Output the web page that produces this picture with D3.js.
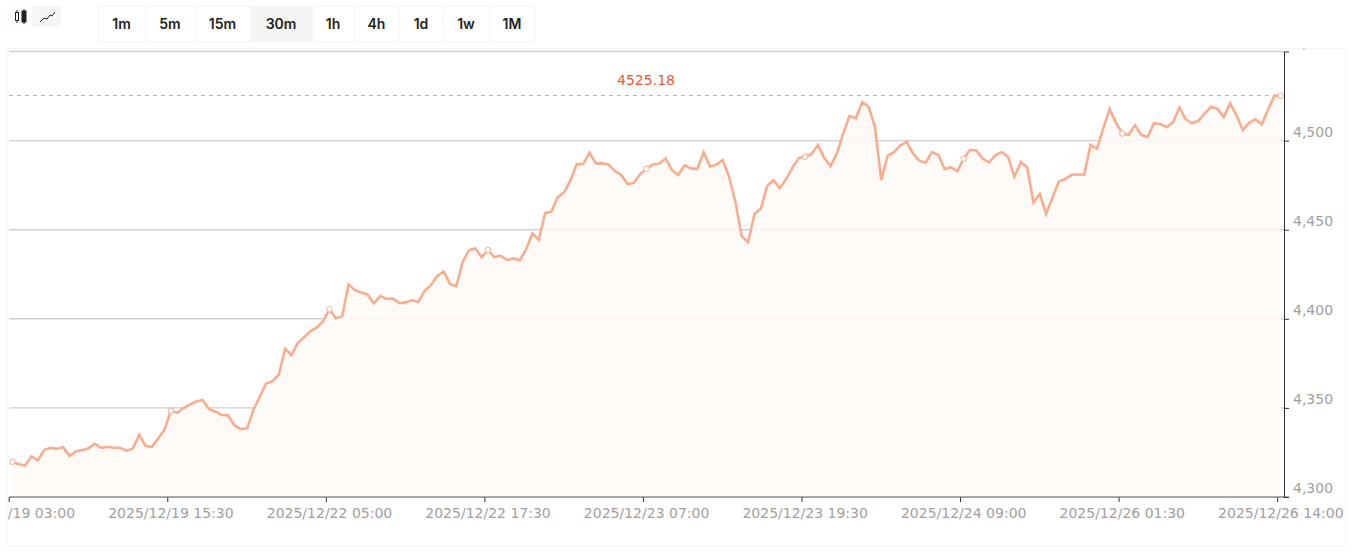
<!DOCTYPE html>
<html>
<head>
<meta charset="utf-8">
<script src="https://d3js.org/d3.v7.min.js"></script>
<style>
    html, body { margin: 0; padding: 0; background: #fff; }
    svg { display: block; font-family: "DejaVu Sans", sans-serif; }
</style>
</head>
<body>
<svg width="1359" height="556"></svg>
<script>

    // closing prices, one every 30m bar
    const prices = [
        4319.7, 4318.4, 4317.7, 4322.9, 4320.5, 4326.3, 4327.6, 4327.0, 4328.0, 4323.1,
        4325.6, 4326.3, 4327.3, 4329.9, 4327.6, 4328.2, 4327.6, 4327.6, 4325.9, 4327.3,
        4334.9, 4328.7, 4328.0, 4332.9, 4337.9, 4348.4, 4347.2, 4349.9, 4352.0, 4353.6,
        4354.5, 4349.3, 4348.0, 4346.0, 4345.8, 4340.3, 4338.1, 4338.5, 4348.8, 4356.2,
        4363.7, 4365.0, 4368.6, 4383.2, 4379.6, 4386.4, 4389.6, 4393.1, 4395.2, 4398.7,
        4405.4, 4400.2, 4401.5, 4419.3, 4416.1, 4414.8, 4413.7, 4408.6, 4412.7, 4411.2,
        4411.4, 4408.8, 4409.2, 4410.5, 4409.4, 4415.7, 4418.9, 4424.1, 4426.6, 4419.6,
        4418.4, 4432.0, 4438.5, 4439.4, 4434.6, 4438.5, 4434.6, 4435.4, 4433.0, 4433.9,
        4432.8, 4439.0, 4447.9, 4444.3, 4459.2, 4460.3, 4468.3, 4470.9, 4477.8, 4486.8,
        4486.8, 4493.2, 4487.2, 4487.2, 4486.6, 4482.9, 4480.7, 4475.6, 4476.3, 4481.2,
        4484.2, 4486.6, 4487.2, 4490.0, 4483.4, 4480.8, 4486.1, 4484.4, 4484.0, 4493.5,
        4485.5, 4486.6, 4489.1, 4479.7, 4465.6, 4446.4, 4443.0, 4458.8, 4461.7, 4474.5,
        4477.8, 4473.2, 4478.4, 4485.0, 4490.2, 4490.9, 4492.4, 4497.5, 4490.3, 4485.7,
        4492.8, 4504.0, 4513.8, 4512.5, 4521.6, 4519.0, 4507.7, 4477.8, 4491.5, 4493.5,
        4497.3, 4499.3, 4492.8, 4488.7, 4487.6, 4493.5, 4491.9, 4484.0, 4485.1, 4482.7,
        4489.8, 4494.8, 4494.5, 4489.8, 4487.8, 4491.9, 4493.5, 4490.9, 4479.7, 4487.9,
        4485.1, 4465.3, 4470.1, 4458.9, 4468.1, 4477.1, 4478.4, 4480.8, 4481.0, 4481.0,
        4497.6, 4495.4, 4506.9, 4517.7, 4510.0, 4504.0, 4503.1, 4508.7, 4503.1, 4502.1,
        4509.8, 4509.3, 4507.6, 4510.2, 4518.6, 4512.1, 4509.7, 4511.1, 4515.3, 4519.0,
        4517.9, 4513.2, 4520.9, 4514.3, 4505.9, 4510.0, 4511.9, 4509.1, 4517.5, 4525.3,
        4525.18
    ];

    // every 25th bar carries a date label and a small ring on the line
    const markedBars = [0, 25, 50, 75, 100, 125, 150, 175, 200];
    const dateLabels = ["2025/12/19 03:00", "2025/12/19 15:30", "2025/12/22 05:00", "2025/12/22 17:30",
        "2025/12/23 07:00", "2025/12/23 19:30", "2025/12/24 09:00", "2025/12/26 01:30", "2025/12/26 14:00"];
    const priceTicks = [4300, 4350, 4400, 4450, 4500, 4550];
    const lastPrice = 4525.18;
    const intervals = ["1m", "5m", "15m", "30m", "1h", "4h", "1d", "1w", "1M"];
    const intervalEdges = [98, 145, 195, 250, 312, 354, 399, 443, 489, 535];
    const activeInterval = "30m";

    const svg = d3.select("svg");
    const plotLeft = 9.2, plotRight = 1284, plotTop = 51.5, plotBottom = 497;
    const lineColor = "#f7ad8e";

    const x = d3.scaleBand().domain(d3.range(prices.length)).range([plotLeft, plotRight]);
    const y = d3.scaleLinear().domain([4300, 4550]).range([plotBottom, plotTop]);
    const cx = i => x(i) + x.bandwidth() / 2;

    const defs = svg.append("defs");

    // panel frame
    svg.append("rect").attr("x", 7.5).attr("y", 48.5).attr("width", 1338).attr("height", 498)
        .attr("fill", "#fff").attr("stroke", "#f5f5f5");

    // toolbar: chart type switch
    svg.append("rect").attr("x", 7).attr("y", 6).attr("width", 54).attr("height", 21).attr("fill", "#f5f5f5");
    svg.append("rect").attr("x", 7.5).attr("y", 6.5).attr("width", 25).attr("height", 20).attr("fill", "#fff");
    const icon = svg.append("g").attr("stroke", "#222").attr("fill", "none");
    icon.append("path").attr("d", "M17 10V23M24 9V24");
    icon.append("rect").attr("x", 15.5).attr("y", 12.5).attr("width", 3).attr("height", 8).attr("fill", "#fff");
    icon.append("rect").attr("x", 22).attr("y", 11).attr("width", 4).attr("height", 11).attr("fill", "#222");
    icon.append("path").attr("d", "M40 22L44 18L47 19L50 15L52 16L55 12").attr("stroke-width", 1);

    // toolbar: interval buttons
    const buttons = svg.append("g").selectAll("g").data(intervals).join("g");
    buttons.append("rect")
        .attr("x", (d, i) => intervalEdges[i] + 0.5)
        .attr("y", 6.5)
        .attr("width", (d, i) => intervalEdges[i + 1] - intervalEdges[i])
        .attr("height", 35)
        .attr("fill", d => d === activeInterval ? "#f5f5f5" : "#fff")
        .attr("stroke", "#f5f5f5");
    buttons.append("text")
        .attr("x", (d, i) => (intervalEdges[i] + intervalEdges[i + 1]) / 2)
        .attr("y", 29)
        .attr("text-anchor", "middle")
        .attr("fill", "#222")
        .style("font-family", "Inter, sans-serif")
        .style("font-size", "14px")
        .style("font-weight", 600)
        .text(d => d);

    // horizontal grid, the area fill washes it out further down
    svg.append("g").selectAll("line").data(priceTicks).join("line")
        .attr("x1", plotLeft).attr("x2", plotRight)
        .attr("y1", d => y(d)).attr("y2", d => y(d))
        .attr("stroke", "#cfcfcf").attr("stroke-width", 1.4);

    const area = d3.area().x((d, i) => cx(i)).y0(plotBottom).y1(d => y(d));
    const line = d3.line().x((d, i) => cx(i)).y(d => y(d));

    svg.append("path").datum(prices).attr("d", area).attr("fill", "#fef9f6").attr("fill-opacity", 0.85);

    // last price marker
    svg.append("line").attr("x1", plotLeft).attr("x2", plotRight)
        .attr("y1", y(lastPrice)).attr("y2", y(lastPrice))
        .attr("stroke", "#f6a284").attr("stroke-dasharray", "4,4")
        .attr("shape-rendering", "crispEdges");
    svg.append("text").attr("x", 646).attr("y", 85).attr("text-anchor", "middle")
        .attr("fill", "#f0562a").style("font-size", "14px").text(lastPrice);

    svg.append("path").datum(prices).attr("d", line)
        .attr("fill", "none").attr("stroke", lineColor).attr("stroke-width", 2.6);

    svg.append("g").selectAll("circle").data(markedBars).join("circle")
        .attr("cx", d => cx(d)).attr("cy", d => y(prices[d])).attr("r", 2.8)
        .attr("fill", "#fff").attr("stroke", lineColor);

    // axes
    const xAxis = d3.axisBottom(x)
        .tickValues(markedBars)
        .tickFormat((d, i) => dateLabels[i])
        .tickSize(5)
        .tickSizeOuter(0);
    defs.append("clipPath").attr("id", "clip-x").append("rect")
        .attr("x", 8).attr("y", -5).attr("width", 1338).attr("height", 40);
    const gx = svg.append("g").attr("transform", "translate(0," + plotBottom + ")")
        .attr("clip-path", "url(#clip-x)").call(xAxis);
    gx.select(".domain").remove();
    gx.selectAll("line").attr("x1", -x.bandwidth() / 2).attr("x2", -x.bandwidth() / 2).attr("stroke", "#333");
    gx.selectAll("text").attr("y", 10.5).attr("dy", "10px").attr("fill", "#a0a0a0")
        .style("font-family", "'DejaVu Sans', sans-serif").style("font-size", "14px");
    svg.append("line").attr("x1", plotLeft).attr("x2", 1289).attr("y1", plotBottom).attr("y2", plotBottom)
        .attr("stroke", "#666").attr("stroke-width", 1.2);

    const yAxis = d3.axisRight(y)
        .tickValues(priceTicks)
        .tickFormat(d3.format(","))
        .tickSize(5)
        .tickSizeOuter(0);
    defs.append("clipPath").attr("id", "clip-y").append("rect")
        .attr("x", -5).attr("y", 48.5).attr("width", 70).attr("height", 498);
    const gy = svg.append("g").attr("transform", "translate(" + plotRight + ",0)")
        .attr("clip-path", "url(#clip-y)").call(yAxis);
    gy.select(".domain").attr("stroke", "#333");
    gy.selectAll("line").attr("stroke", "#333");
    gy.selectAll("text").attr("x", 9).attr("dy", "-4.5px").attr("fill", "#a0a0a0")
        .style("font-family", "'DejaVu Sans', sans-serif").style("font-size", "14px");

</script>
</body>
</html>
